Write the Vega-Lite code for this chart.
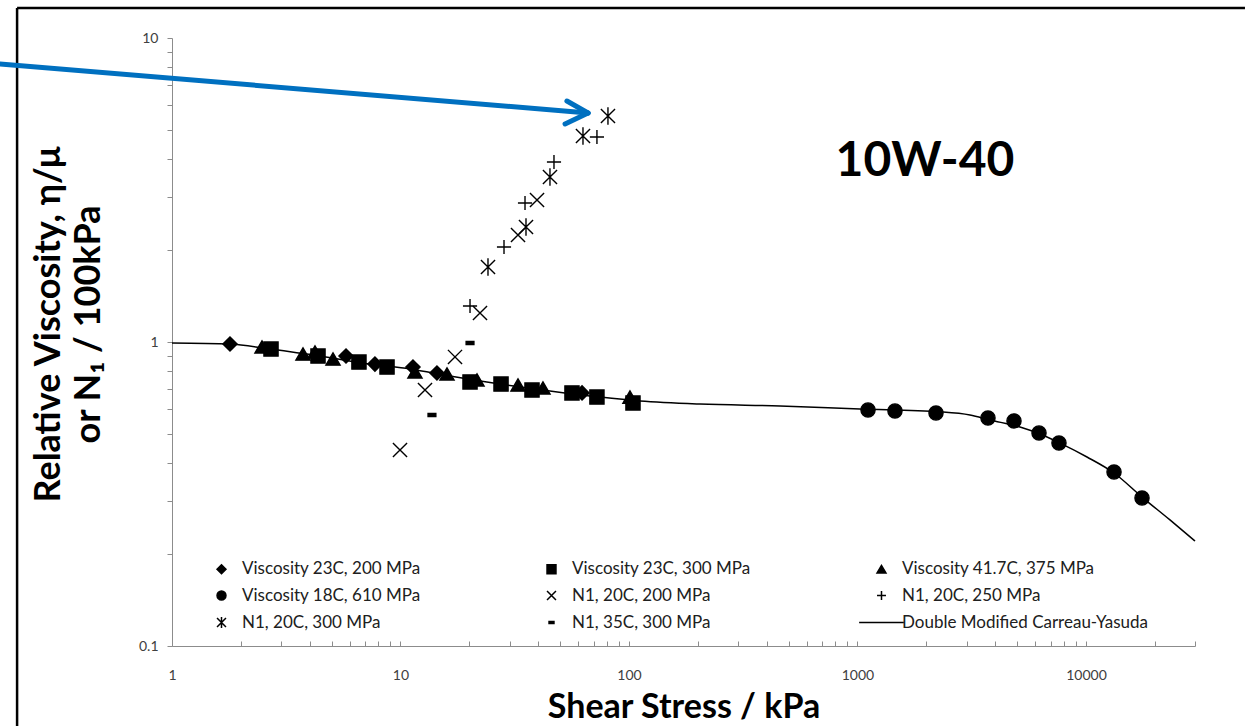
{
  "$schema": "https://vega.github.io/schema/vega-lite/v6.json",
  "width": 1023,
  "height": 608,
  "autosize": {"type": "none"},
  "padding": {"left": 172, "top": 38, "right": 50, "bottom": 80},
  "background": "white",
  "config": {
    "view": {"stroke": null},
    "font": "Lato",
    "axis": {"labelFont": "Lato", "titleFont": "Lato", "grid": false}
  },
  "datasets": {
    "pts": [
      {"s": "Viscosity 23C, 200 MPa", "x": 1.794, "y": 0.985},
      {"s": "Viscosity 23C, 200 MPa", "x": 5.775, "y": 0.899},
      {"s": "Viscosity 23C, 200 MPa", "x": 7.73, "y": 0.846},
      {"s": "Viscosity 23C, 200 MPa", "x": 11.34, "y": 0.827},
      {"s": "Viscosity 23C, 200 MPa", "x": 14.44, "y": 0.791},
      {"s": "Viscosity 23C, 200 MPa", "x": 62.3, "y": 0.68},
      {"s": "Viscosity 23C, 300 MPa", "x": 2.712, "y": 0.948},
      {"s": "Viscosity 23C, 300 MPa", "x": 4.355, "y": 0.899},
      {"s": "Viscosity 23C, 300 MPa", "x": 6.58, "y": 0.859},
      {"s": "Viscosity 23C, 300 MPa", "x": 8.73, "y": 0.827},
      {"s": "Viscosity 23C, 300 MPa", "x": 20.15, "y": 0.739},
      {"s": "Viscosity 23C, 300 MPa", "x": 27.54, "y": 0.727},
      {"s": "Viscosity 23C, 300 MPa", "x": 37.63, "y": 0.695},
      {"s": "Viscosity 23C, 300 MPa", "x": 56.3, "y": 0.68},
      {"s": "Viscosity 23C, 300 MPa", "x": 72.4, "y": 0.659},
      {"s": "Viscosity 23C, 300 MPa", "x": 104.1, "y": 0.63},
      {"s": "Viscosity 41.7C, 375 MPa", "x": 2.477, "y": 0.963},
      {"s": "Viscosity 41.7C, 375 MPa", "x": 3.744, "y": 0.913},
      {"s": "Viscosity 41.7C, 375 MPa", "x": 4.225, "y": 0.927},
      {"s": "Viscosity 41.7C, 375 MPa", "x": 5.066, "y": 0.879},
      {"s": "Viscosity 41.7C, 375 MPa", "x": 11.57, "y": 0.797},
      {"s": "Viscosity 41.7C, 375 MPa", "x": 15.98, "y": 0.785},
      {"s": "Viscosity 41.7C, 375 MPa", "x": 21.62, "y": 0.75},
      {"s": "Viscosity 41.7C, 375 MPa", "x": 32.68, "y": 0.722},
      {"s": "Viscosity 41.7C, 375 MPa", "x": 42.03, "y": 0.706},
      {"s": "Viscosity 41.7C, 375 MPa", "x": 101.0, "y": 0.659},
      {"s": "Viscosity 18C, 610 MPa", "x": 1112, "y": 0.5975},
      {"s": "Viscosity 18C, 610 MPa", "x": 1459, "y": 0.593},
      {"s": "Viscosity 18C, 610 MPa", "x": 2206, "y": 0.584},
      {"s": "Viscosity 18C, 610 MPa", "x": 3725, "y": 0.562},
      {"s": "Viscosity 18C, 610 MPa", "x": 4841, "y": 0.55},
      {"s": "Viscosity 18C, 610 MPa", "x": 6229, "y": 0.502},
      {"s": "Viscosity 18C, 610 MPa", "x": 7617, "y": 0.465},
      {"s": "Viscosity 18C, 610 MPa", "x": 13265, "y": 0.3735},
      {"s": "Viscosity 18C, 610 MPa", "x": 17588, "y": 0.3067},
      {"s": "N1, 20C, 200 MPa", "x": 9.95, "y": 0.4413},
      {"s": "N1, 20C, 200 MPa", "x": 12.8, "y": 0.695},
      {"s": "N1, 20C, 200 MPa", "x": 17.32, "y": 0.893},
      {"s": "N1, 20C, 200 MPa", "x": 22.28, "y": 1.246},
      {"s": "N1, 20C, 200 MPa", "x": 32.68, "y": 2.249},
      {"s": "N1, 20C, 200 MPa", "x": 39.58, "y": 2.931},
      {"s": "N1, 20C, 250 MPa", "x": 20.15, "y": 1.313},
      {"s": "N1, 20C, 250 MPa", "x": 28.38, "y": 2.054},
      {"s": "N1, 20C, 250 MPa", "x": 35.07, "y": 2.866},
      {"s": "N1, 20C, 250 MPa", "x": 46.96, "y": 3.909},
      {"s": "N1, 20C, 250 MPa", "x": 72.4, "y": 4.725},
      {"s": "N1, 20C, 300 MPa", "x": 24.15, "y": 1.765},
      {"s": "N1, 20C, 300 MPa", "x": 35.42, "y": 2.389},
      {"s": "N1, 20C, 300 MPa", "x": 45.1, "y": 3.489},
      {"s": "N1, 20C, 300 MPa", "x": 62.9, "y": 4.76},
      {"s": "N1, 20C, 300 MPa", "x": 80.9, "y": 5.539},
      {"s": "N1, 35C, 300 MPa", "x": 13.73, "y": 0.575},
      {"s": "N1, 35C, 300 MPa", "x": 20.15, "y": 0.9925}
    ],
    "curve": [
      {"x": 1, "y": 0.992},
      {"x": 1.794, "y": 0.985},
      {"x": 2.685, "y": 0.948},
      {"x": 4.443, "y": 0.899},
      {"x": 7.354, "y": 0.846},
      {"x": 11.0, "y": 0.815},
      {"x": 16.47, "y": 0.773},
      {"x": 27.26, "y": 0.727},
      {"x": 45.1, "y": 0.69},
      {"x": 74.67, "y": 0.659},
      {"x": 111.7, "y": 0.64},
      {"x": 204.5, "y": 0.625},
      {"x": 458, "y": 0.616},
      {"x": 1025, "y": 0.602},
      {"x": 2296, "y": 0.589},
      {"x": 3107, "y": 0.575},
      {"x": 3801, "y": 0.554},
      {"x": 5143, "y": 0.525},
      {"x": 6290, "y": 0.498},
      {"x": 7694, "y": 0.465},
      {"x": 10102, "y": 0.4186},
      {"x": 13265, "y": 0.3707},
      {"x": 17588, "y": 0.309},
      {"x": 23310, "y": 0.2598},
      {"x": 30000, "y": 0.2215}
    ],
    "arrow": [
      {"x": 0.1767, "y": 8.21, "x2": 66.2, "y2": 5.666},
      {"x": 53.5, "y": 6.205, "x2": 66.2, "y2": 5.666},
      {"x": 52.5, "y": 5.213, "x2": 66.2, "y2": 5.666}
    ],
    "frame": [
      {"x": 0.2099, "y": 12.55, "x2": 49640, "y2": 12.55},
      {"x": 0.2099, "y": 12.55, "x2": 0.2099, "y2": 0.0546}
    ],
    "label": [
      {"x": 1974, "y": 3.9, "t": "10W-40"}
    ]
  },
  "layer": [
    {
      "data": {"name": "frame"},
      "mark": {"type": "rule", "color": "black", "strokeWidth": 2.5},
      "encoding": {
        "x": {"field": "x", "type": "quantitative", "scale": {"type": "log", "domain": [1, 30000], "nice": false}},
        "y": {"field": "y", "type": "quantitative", "scale": {"type": "log", "domain": [0.1, 10], "nice": false}},
        "x2": {"field": "x2"},
        "y2": {"field": "y2"}
      }
    },
    {
      "data": {"name": "curve"},
      "mark": {"type": "line", "color": "black", "strokeWidth": 1.5, "interpolate": "monotone"},
      "encoding": {
        "x": {"field": "x", "type": "quantitative", "scale": {"type": "log", "domain": [1, 30000], "nice": false},
          "axis": {
            "title": "Shear Stress / kPa",
            "values": [1,2,3,4,5,6,7,8,9,10,20,30,40,50,60,70,80,90,100,200,300,400,500,600,700,800,900,1000,2000,3000,4000,5000,6000,7000,8000,9000,10000,20000,30000],
            "format": "d",
            "labelExpr": "indexof([1,10,100,1000,10000], datum.value) >= 0 ? datum.label : ''",
            "labelFontSize": 14, "labelColor": "#404040", "labelPadding": 27,
            "tickSize": -5, "tickColor": "#8c8c8c", "domainColor": "#8c8c8c",
            "labelFlush": false,
            "titleFontSize": 34, "titleFontWeight": "bold", "titleColor": "black",
            "titleY": 61, "titleBaseline": "middle"
          }
        },
        "y": {"field": "y", "type": "quantitative", "scale": {"type": "log", "domain": [0.1, 10], "nice": false},
          "axis": {
            "title": ["Relative Viscosity, η/μ", "or N₁ / 100kPa"],
            "values": [0.1,0.2,0.3,0.4,0.5,0.6,0.7,0.8,0.9,1,2,3,4,5,6,7,8,9,10],
            "format": "~g",
            "labelExpr": "indexof([0.1,1,10], datum.value) >= 0 ? datum.label : ''",
            "labelFontSize": 14, "labelColor": "#404040", "labelPadding": 9,
            "tickSize": 5, "tickColor": "#8c8c8c", "domainColor": "#8c8c8c",
            "labelFlush": false,
            "titleFontSize": 36, "titleFontWeight": "bold", "titleColor": "black",
            "titleX": -124, "titleY": 286, "titleBaseline": "middle", "titleAlign": "center", "titleLineHeight": 40
          }
        }
      }
    },
    {
      "data": {"name": "pts"},
      "mark": {"type": "point", "filled": true, "color": "black", "stroke": "black", "strokeWidth": 1.4, "opacity": 1, "size": 200},
      "encoding": {
        "x": {"field": "x", "type": "quantitative"},
        "y": {"field": "y", "type": "quantitative"},
        "shape": {
          "field": "s", "type": "nominal",
          "scale": {
            "domain": ["Viscosity 23C, 200 MPa", "Viscosity 18C, 610 MPa", "N1, 20C, 300 MPa", "Viscosity 23C, 300 MPa", "N1, 20C, 200 MPa", "N1, 35C, 300 MPa", "Viscosity 41.7C, 375 MPa", "N1, 20C, 250 MPa", "Double Modified Carreau-Yasuda"],
            "range": ["diamond", "circle", "M-1,-1L1,1M-1,1L1,-1M0,-1.25L0,1.25", "square", "M-1,-1L1,1M-1,1L1,-1", "M-0.55,-0.22H0.55V0.22H-0.55Z", "triangle-up", "M-1,0L1,0M0,-1L0,1", "M-5,0H5"]
          },
          "legend": {
            "title": null,
            "orient": "none",
            "legendX": 41,
            "legendY": 522,
            "columns": 3,
            "gridAlign": "all",
            "columnPadding": 37,
            "rowPadding": 8,
            "padding": 0,
            "symbolSize": 80,
            "labelOffset": 12,
            "labelFont": "Lato",
            "labelFontSize": 17,
            "labelColor": "#202020",
            "labelLimit": 400,
            "encode": {
              "symbols": {"stroke": {"value": "black"}, "strokeWidth": {"value": 1.3}, "fill": {"value": "black"}, "strokeOpacity": {"value": 1}}
            }
          }
        }
      }
    },
    {
      "data": {"name": "arrow"},
      "mark": {"type": "rule", "color": "#0070C0", "strokeWidth": 5, "strokeCap": "round"},
      "encoding": {
        "x": {"field": "x", "type": "quantitative"},
        "y": {"field": "y", "type": "quantitative"},
        "x2": {"field": "x2"},
        "y2": {"field": "y2"}
      }
    },
    {
      "data": {"name": "label"},
      "mark": {"type": "text", "font": "Lato", "fontSize": 48, "fontWeight": "bold", "color": "black", "align": "center", "baseline": "middle"},
      "encoding": {
        "x": {"field": "x", "type": "quantitative"},
        "y": {"field": "y", "type": "quantitative"},
        "text": {"field": "t"}
      }
    }
  ]
}
